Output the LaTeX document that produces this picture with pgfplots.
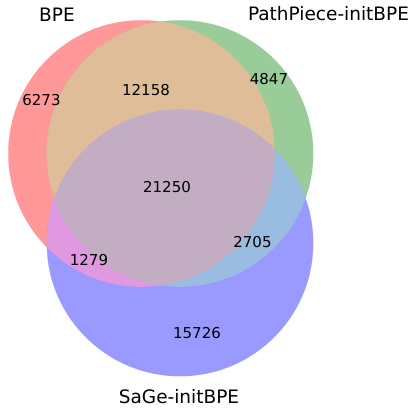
\documentclass[border=0pt]{standalone}
\usepackage{pgfplots}
\pgfplotsset{compat=1.18}
\usepackage{fontspec}
\setmainfont{DejaVu Sans}
\definecolor{cA}{RGB}{255,153,153}
\definecolor{cB}{RGB}{153,204,153}
\definecolor{cC}{RGB}{153,153,255}
\definecolor{cAB}{RGB}{224,189,153}
\definecolor{cAC}{RGB}{224,153,224}
\definecolor{cBC}{RGB}{153,189,224}
\definecolor{cABC}{RGB}{194,173,194}
\pgfplotsset{
  venn/.style={only marks, mark=*, mark size=133.2pt,
    mark options={fill=#1, draw=#1, line width=0.1pt}},
  clipA/.style={execute at begin plot visualization={\begin{pgfscope}%
    \pgfpathcircle{\pgfplotspointaxisxy{141.5}{253.5}}{133.3pt}\pgfusepath{clip}},
    execute at end plot visualization={\end{pgfscope}}},
  clipB/.style={execute at begin plot visualization={\begin{pgfscope}%
    \pgfpathcircle{\pgfplotspointaxisxy{180}{253.5}}{133.3pt}\pgfusepath{clip}},
    execute at end plot visualization={\end{pgfscope}}},
  clipAB/.style={execute at begin plot visualization={\begin{pgfscope}%
    \pgfpathcircle{\pgfplotspointaxisxy{141.5}{253.5}}{133.3pt}\pgfusepath{clip}%
    \pgfpathcircle{\pgfplotspointaxisxy{180}{253.5}}{133.3pt}\pgfusepath{clip}},
    execute at end plot visualization={\end{pgfscope}}},
}
\begin{document}
\begin{tikzpicture}
\begin{axis}[
  width=411pt, height=407pt, scale only axis,
  xmin=0, xmax=411, ymin=0, ymax=407,
  hide axis, clip=false, clip marker paths=true,
  every node/.style={inner sep=0pt},
]
% circles: centres (radius 133.3 units = 133.3pt)
\addplot[venn=cA] coordinates {(141.5,253.5)};
\addplot[venn=cB] coordinates {(180,253.5)};
\addplot[venn=cC] coordinates {(180,164)};
% A and B
\addplot[venn=cAB, clipA] coordinates {(180,253.5)};
% A and C
\addplot[venn=cAC, clipA] coordinates {(180,164)};
% B and C
\addplot[venn=cBC, clipB] coordinates {(180,164)};
% A, B and C
\addplot[venn=cABC, clipAB] coordinates {(180,164)};
% set labels
\node[font=\fontsize{18.5}{22}\selectfont] at (axis cs:57,392.5) {BPE};
\node[font=\fontsize{18.5}{22}\selectfont] at (axis cs:328.5,393.5) {PathPiece-initBPE};
\node[font=\fontsize{18.5}{22}\selectfont] at (axis cs:179,10.5) {SaGe-initBPE};
% region counts
\node[font=\fontsize{15}{18}\selectfont] at (axis cs:41.5,307) {6273};
\node[font=\fontsize{15}{18}\selectfont] at (axis cs:146,317) {12158};
\node[font=\fontsize{15}{18}\selectfont] at (axis cs:269,327.5) {4847};
\node[font=\fontsize{15}{18}\selectfont] at (axis cs:167,220) {21250};
\node[font=\fontsize{15}{18}\selectfont] at (axis cs:89,147) {1279};
\node[font=\fontsize{15}{18}\selectfont] at (axis cs:252.5,165) {2705};
\node[font=\fontsize{15}{18}\selectfont] at (axis cs:197,74) {15726};
\end{axis}
\pgfresetboundingbox
\useasboundingbox (current axis.south west) rectangle (current axis.north east);
\end{tikzpicture}
\end{document}
